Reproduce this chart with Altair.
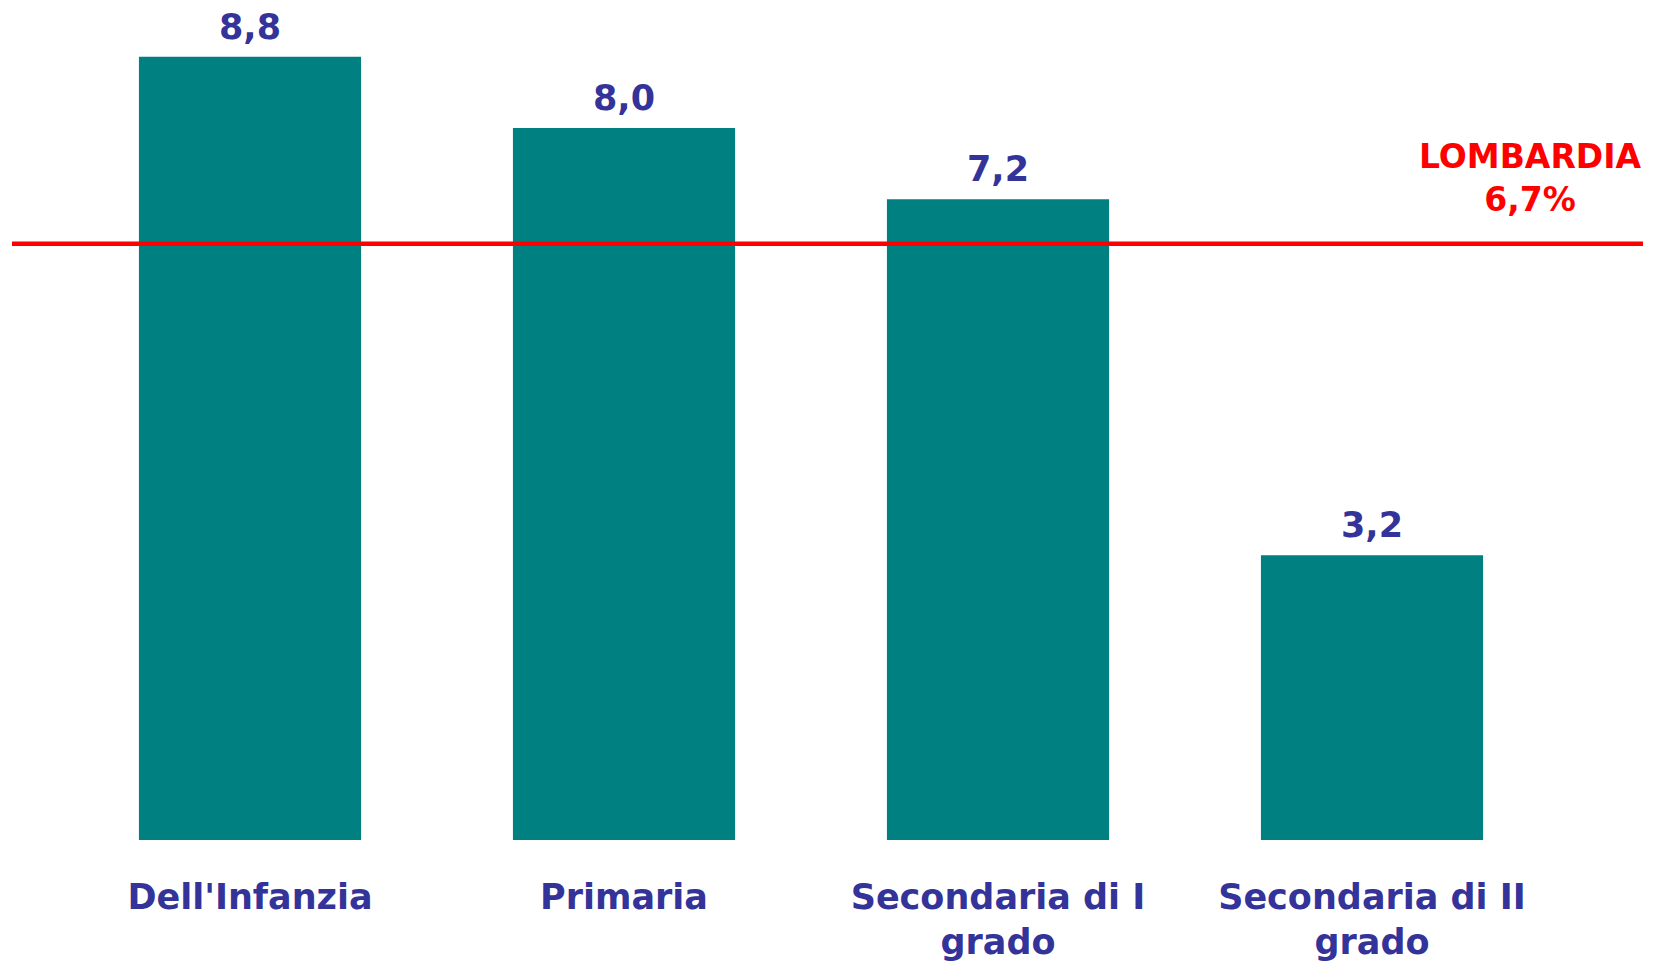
import altair as alt
import pandas as pd

categories = ["Dell'Infanzia", "Primaria", "Secondaria di I grado", "Secondaria di II grado"]
label_lines = [["Dell'Infanzia"], ["Primaria"], ["Secondaria di I", "grado"], ["Secondaria di II", "grado"]]
values = [8.8, 8.0, 7.2, 3.2]
lombardia_value = 6.7
lombardia_label = ["LOMBARDIA", "6,7%"]

df = pd.DataFrame({
    "cat": categories,
    "val": values,
    "txt": [f"{v:.1f}".replace(".", ",") for v in values],
})
ref = pd.DataFrame({"val": [lombardia_value], "lbl": ["|".join(lombardia_label)]})

label_map = {c: "|".join(l) for c, l in zip(categories, label_lines)}
label_expr = "split(" + " : ".join(
    [f"datum.label == {c!r} ? {l!r}" for c, l in label_map.items()]
) + " : datum.label, '|')"

FONT = "'DejaVu Sans', sans-serif"
BLUE = "#333399"
TEAL = "#008080"
RED = "#FF0000"

x = alt.X("cat:N", sort=categories, title=None,
          scale=alt.Scale(paddingInner=0.406, paddingOuter=0.203),
          axis=alt.Axis(domain=False, ticks=False, labelAngle=0,
                        labelExpr=label_expr, labelFont=FONT, labelFontSize=35,
                        labelFontWeight="bold", labelColor=BLUE, labelPadding=40,
                        labelLineHeight=45, labelBaseline="top", labelLimit=0))
y = alt.Y("val:Q", title=None, scale=alt.Scale(domain=[0, 9]), axis=None)

bars = alt.Chart(df).mark_bar(color=TEAL).encode(x=x, y=y)
texts = alt.Chart(df).mark_text(font=FONT, fontSize=35, fontWeight="bold", color=BLUE,
                                baseline="middle", dy=-29).encode(x=x, y=y, text="txt:N")
rule = alt.Chart(ref).mark_rule(color=RED, strokeWidth=4.5).encode(
    y="val:Q", x=alt.value(-51), x2=alt.value(1580))
reftext = alt.Chart(ref).transform_calculate(lines="split(datum.lbl, '|')").mark_text(
    font=FONT, fontSize=33, fontWeight="bold", color=RED, align="center",
    baseline="middle", lineHeight=43, dy=-86).encode(
    y="val:Q", x=alt.value(1467), text="lines:N")

chart = alt.layer(bars, texts, rule, reftext).properties(
    width=1496, height=801,
    padding={"left": 55, "top": 31, "right": 88, "bottom": 123},
    autosize=alt.AutoSizeParams(type="none"),
).configure_view(stroke=None)

chart.save("out.html", embed_options={"renderer": "svg", "actions": False})
